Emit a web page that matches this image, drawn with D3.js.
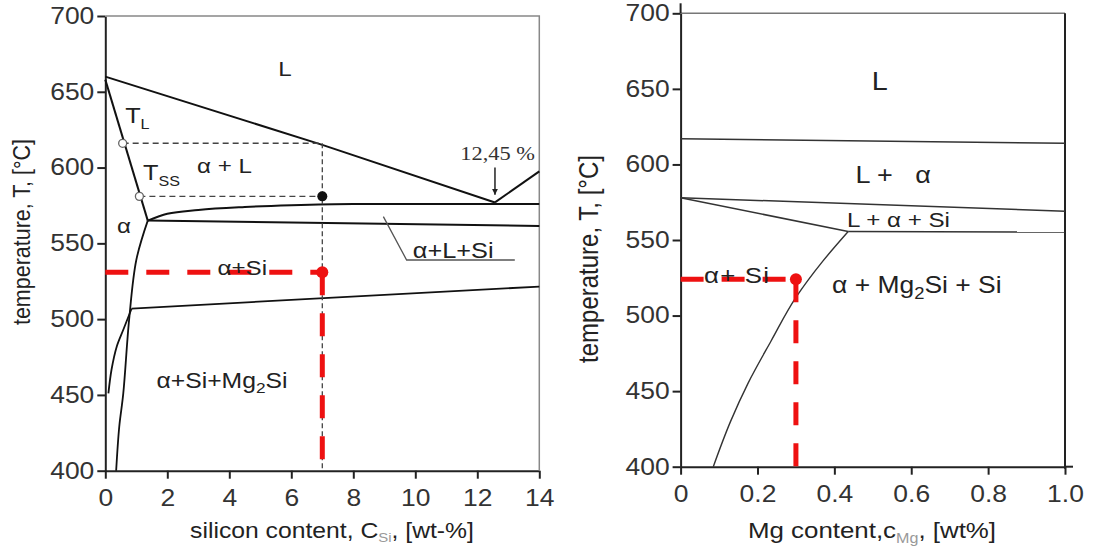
<!DOCTYPE html>
<html>
<head>
<meta charset="UTF-8">
<script src="https://d3js.org/d3.v7.min.js"></script>
<style>
    body {
        margin: 0;
        background: #fff;
    }
    svg {
        display: block;
        font-family: "Liberation Sans", Arial, sans-serif;
    }
    .tick text {
        font-size: 23px;
        fill: #333;
    }
    .tick line {
        stroke: #222;
        stroke-width: 2;
    }
    .domain {
        stroke: #222;
        stroke-width: 2;
    }
    .phase {
        font-size: 21px;
        fill: #222;
        white-space: pre;
    }
    .axlabel {
        font-size: 21.5px;
        fill: #222;
    }
</style>
</head>
<body>
<svg width="1094" height="554"></svg>
<script>
// the source picture is a bit stretched sideways, text gets the same stretch
const SX = 1.15;

// ---- ticks ----
const tempTicks = [400, 450, 500, 550, 600, 650, 700];
const siTicks = [0, 2, 4, 6, 8, 10, 12, 14];
const mgTicks = [0, 0.2, 0.4, 0.6, 0.8, 1.0];

// ---- left diagram: Al-Si (+Mg) section, [Si wt-%, T °C] ----
const siLiquidus = [[0, 660], [7, 615], [12.57, 577]];
const siHyperLiquidus = [[12.57, 577], [14, 597.5]];
const siSolidus = [[0, 658], [1.37, 565]];
const siEutecticCurve = [[1.37, 565], [2, 569.5], [3, 572], [4.5, 574], [6, 575.2], [8, 576], [14, 576]];
const siLowerLine = [[1.37, 565], [14, 561.5]];
const siSolvus = [[1.37, 565], [1.0, 539], [0.77, 500], [0.58, 451], [0.45, 429], [0.35, 400]];
const siMg2SiSolvus = [[0.1, 451], [0.2, 466.6], [0.37, 482], [0.58, 493], [0.85, 507]];
const siTernaryLine = [[0.85, 507], [14, 521.5]];
const siLeader = [[8.97, 567.6], [9.72, 539], [13.21, 539]];
const siGuideTL = [[0.56, 616], [7, 616]];
const siGuideTSS = [[1.1, 581], [7, 581]];
const siGuideV = [[7, 616], [7, 400]];
const siOpenCircles = [[0.56, 616], [1.1, 581]];
const siBlackDot = [7, 581];
const siArrow = [[12.57, 600], [12.57, 582]];
const siRedH = [[0, 531], [7, 531]];
const siRedV = [[7, 531], [7, 400]];
const siRedDot = [7, 531];

// ---- right diagram: Mg content ----
const mgLiquidus = [[0, 617], [1, 614]];
const mgTrough = [[0, 578], [1, 569]];
const mgSiLine = [[0, 578], [0.436, 555.6]];
const mgTernary = [[0.436, 555.6], [1, 555.3]];
const mgSolvus = [[0.436, 555.6], [0.37, 536], [0.30, 512], [0.235, 483], [0.175, 455], [0.13, 430], [0.085, 400]];
const mgRedH = [[0, 524], [0.3, 524]];
const mgRedV = [[0.3, 524], [0.3, 400]];
const mgRedDot = [0.3, 524];

const svg = d3.select("svg");

svg.append("defs").append("marker")
    .attr("id", "arrow")
    .attr("viewBox", "0 0 10 10")
    .attr("refX", 10).attr("refY", 5)
    .attr("markerWidth", 4).attr("markerHeight", 4)
    .attr("markerUnits", "strokeWidth")
    .attr("orient", "auto")
    .append("path").attr("d", "M0,0 L10,5 L0,10 Z").attr("fill", "#222");

function panel(xDomain, xRange, yRange, xTicks, xFmt) {
    const x = d3.scaleLinear().domain(xDomain).range(xRange);
    const y = d3.scaleLinear().domain([400, 700]).range(yRange);
    const g = svg.append("g");
    const ax = g.append("g")
        .attr("transform", `translate(0,${yRange[0]})`)
        .call(d3.axisBottom(x).tickValues(xTicks).tickFormat(xFmt).tickSize(8).tickSizeOuter(0).tickPadding(11));
    ax.selectAll(".tick text").attr("transform", `scale(${SX},1)`);
    const ay = g.append("g")
        .attr("transform", `translate(${xRange[0]},0)`)
        .call(d3.axisLeft(y).tickValues(tempTicks).tickSize(8).tickSizeOuter(0).tickPadding(3));
    ay.selectAll(".tick text").attr("x", -11 / SX).attr("transform", `scale(${SX},1)`);
    const line = (pts, curve) => d3.line().x(d => x(d[0])).y(d => y(d[1])).curve(curve || d3.curveLinear)(pts);
    return { x, y, g, line, ax };
}

function path(p, pts, opts) {
    return p.g.append("path")
        .attr("d", p.line(pts, opts.curve))
        .attr("fill", "none")
        .attr("stroke", opts.color || "#111")
        .attr("stroke-width", opts.width || 2)
        .attr("stroke-dasharray", opts.dash || null);
}

// text placed at data coords, stretched sideways like the source
// parts with a size are subscripts
function label(p, xv, tv, parts, size, extra) {
    const t = p.g.append("g")
        .attr("transform", `translate(${p.x(xv)},${p.y(tv)}) scale(${SX},1)`)
        .append("text").attr("class", "phase");
    if (size) t.style("font-size", size + "px");
    if (extra) extra(t);
    parts.forEach(pt => {
        const s = t.append("tspan").text(pt.t);
        if (pt.size) s.attr("baseline-shift", pt.shift || "-6px").style("font-size", pt.size + "px");
    });
    return t;
}

// ===== left =====
const L = panel([0, 14], [105.3, 539.3], [470.7, 16], siTicks, d3.format("d"));
// frame
L.g.append("path").attr("d", `M${L.x(0)},${L.y(700)}H${L.x(14)}V${L.y(400)}`)
    .attr("fill", "none").attr("stroke", "#888").attr("stroke-width", 1.5);

path(L, siLiquidus, {});
path(L, siHyperLiquidus, {});
path(L, siSolidus, {});
path(L, siEutecticCurve, { curve: d3.curveMonotoneX, width: 2 });
path(L, siLowerLine, {});
path(L, siSolvus, { curve: d3.curveCatmullRom, width: 1.8 });
path(L, siMg2SiSolvus, { curve: d3.curveCatmullRom, width: 1.8 });
path(L, siTernaryLine, { width: 1.8 });
path(L, siLeader, { color: "#555", width: 1.3 });
path(L, siGuideTL, { color: "#444", width: 1.4, dash: "6,4" });
path(L, siGuideTSS, { color: "#444", width: 1.4, dash: "6,4" });
path(L, siGuideV, { color: "#444", width: 1.3, dash: "5,3" });
path(L, siArrow, { color: "#222", width: 1.5 }).attr("marker-end", "url(#arrow)");

L.g.selectAll(".oc").data(siOpenCircles).enter().append("circle")
    .attr("cx", d => L.x(d[0])).attr("cy", d => L.y(d[1])).attr("r", 4)
    .attr("fill", "#fff").attr("stroke", "#666").attr("stroke-width", 1.3);
L.g.append("circle").attr("cx", L.x(siBlackDot[0])).attr("cy", L.y(siBlackDot[1])).attr("r", 5).attr("fill", "#111");

path(L, siRedH, { color: "#ee1111", width: 5, dash: "23,18" });
path(L, siRedV, { color: "#ee1111", width: 5, dash: "23,18" });
L.g.append("circle").attr("cx", L.x(siRedDot[0])).attr("cy", L.y(siRedDot[1])).attr("r", 6).attr("fill", "#ee1111");

label(L, 5.58, 660.4, [{ t: "L" }], 21);
label(L, 0.64, 629.4, [{ t: "T" }, { t: "L", size: 14 }], 22);
label(L, 1.22, 591.8, [{ t: "T" }, { t: "SS", size: 14 }], 22);
label(L, 2.96, 596.4, [{ t: "α + L" }], 21);
label(L, 0.38, 556.9, [{ t: "α" }], 21);
label(L, 3.62, 529.2, [{ t: "α+Si" }], 21);
label(L, 1.65, 454.6, [{ t: "α+Si+Mg" }, { t: "2", size: 15, shift: "-5px" }, { t: "Si" }], 21.5);
label(L, 9.92, 540.4, [{ t: "α+L+Si" }], 22);
label(L, 11.45, 605, [{ t: "12,45 %" }], 19.5, t => t.style("font-family", "'Liberation Serif', serif").style("fill", "#333"));

svg.append("text").attr("class", "axlabel")
    .attr("transform", `translate(30,232) scale(${SX},1) rotate(-90)`).attr("text-anchor", "middle")
    .text("temperature, T, [°C]");
const xl = svg.append("text").attr("class", "axlabel")
    .attr("transform", `translate(332,538) scale(${SX},1)`).attr("text-anchor", "middle");
xl.append("tspan").text("silicon content, C");
xl.append("tspan").text("Si").attr("baseline-shift", "-4px").style("font-size", "13px").style("fill", "#999");
xl.append("tspan").text(", [wt-%]");

// ===== right =====
const R = panel([0, 1], [680.6, 1065], [466.7, 13.3], mgTicks, d3.format(".1f"));
R.ax.select(".tick text").text("0");
// frame
R.g.append("path").attr("d", `M${R.x(0)},${R.y(700)}H${R.x(1)}`)
    .attr("fill", "none").attr("stroke", "#777").attr("stroke-width", 1.5);
R.g.append("path").attr("d", `M${R.x(1)},${R.y(700)}V${R.y(400) + 2}`)
    .attr("fill", "none").attr("stroke", "#222").attr("stroke-width", 2);
R.g.append("path").attr("d", `M${R.x(0)},${R.y(700)}V${R.y(700) - 10}`)
    .attr("fill", "none").attr("stroke", "#222").attr("stroke-width", 2);
R.g.append("path").attr("d", `M${R.x(1)},${R.y(400)}h8`)
    .attr("fill", "none").attr("stroke", "#222").attr("stroke-width", 2);

path(R, mgLiquidus, { color: "#333", width: 1.5 });
path(R, mgTrough, { color: "#333", width: 1.5 });
path(R, mgSiLine, { color: "#333", width: 1.5 });
path(R, mgTernary, { color: "#333", width: 1.5 });
path(R, mgSolvus, { color: "#333", width: 1.4, curve: d3.curveMonotoneY });

path(R, mgRedH, { color: "#ee1111", width: 5, dash: "23,18" });
path(R, mgRedV, { color: "#ee1111", width: 5, dash: "23,18" });
R.g.append("circle").attr("cx", R.x(mgRedDot[0])).attr("cy", R.y(mgRedDot[1])).attr("r", 6).attr("fill", "#ee1111");

label(R, 0.497, 649.3, [{ t: "L" }], 25);
label(R, 0.455, 588, [{ t: "L +   α" }], 23.5);
label(R, 0.433, 558.9, [{ t: "L + α + Si" }], 21);
label(R, 0.061, 521.8, [{ t: "α+ Si" }], 22.5, t => t.style("letter-spacing", "1px"));
label(R, 0.394, 514.8, [{ t: "α + Mg" }, { t: "2", size: 16, shift: "-6px" }, { t: "Si + Si" }], 23);

svg.append("text").attr("class", "axlabel")
    .attr("transform", `translate(598,259) scale(${SX},1) rotate(-90)`).attr("text-anchor", "middle")
    .style("font-size", "24px")
    .text("temperature, T, [°C]");
const xr = svg.append("text").attr("class", "axlabel")
    .attr("transform", `translate(872,538) scale(${SX},1)`).attr("text-anchor", "middle")
    .style("font-size", "22.5px");
xr.append("tspan").text("Mg content,c");
xr.append("tspan").text("Mg").attr("baseline-shift", "-5px").style("font-size", "14px").style("fill", "#999");
xr.append("tspan").text(", [wt%]");
</script>
</body>
</html>
